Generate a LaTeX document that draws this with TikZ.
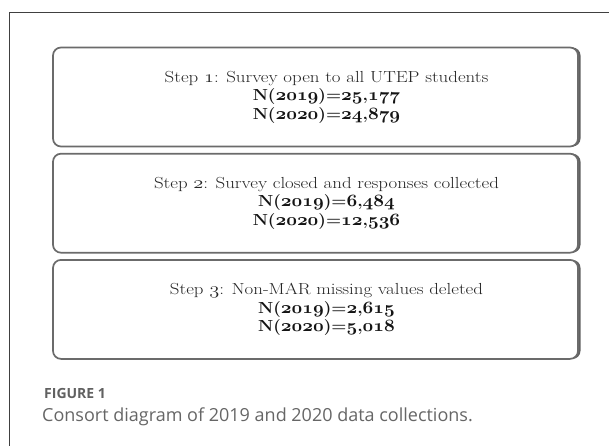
\documentclass[tikz,border=0pt]{standalone}
\usepackage{fontspec}
\usepackage{graphicx}
\usetikzlibrary{positioning,shadows}
\newfontfamily\capfont{Open Sans}
\newcommand{\osf}[1]{{\usefont{OML}{cmm}{m}{it}#1}}
\newcommand{\osfb}[1]{{\usefont{OML}{cmm}{b}{it}#1}}
\newcommand{\wide}[1]{\scalebox{1.18}[1]{#1}}
\newcommand{\ncount}[1]{\scalebox{1.08}[1]{\color{black!92}\bfseries #1}}
\begin{document}
\begin{tikzpicture}[x=1pt, y=-1pt, node distance=5.5pt,
      stepbox/.style={draw=black!58, line width=1.7pt, rounded corners=8pt, fill=white,
        minimum width=525pt, minimum height=99pt, inner sep=0pt,
        general shadow={shadow xshift=2.5pt, shadow yshift=0pt, fill=black!62}},
      steptext/.style={align=center, inner sep=0pt, text=black!85,
        font=\fontsize{16}{18.5}\selectfont}]
    \tikzstyle{capfig} = [inner sep=0pt, text=black!62, font=\capfont\bfseries\fontsize{14}{16}\selectfont]
    \tikzstyle{capline} = [inner sep=0pt, text=black!60, font=\capfont\fontsize{18}{21}\selectfont]
    \useasboundingbox (0,0) rectangle (609,446);
    \fill[white] (0,0) rectangle (609,446);
    \draw[black!75, line width=0.9pt] (9,446) |- (609,12);
    \node[stepbox] (box1) at (315.5,97) {};
    \node[stepbox, below=of box1] (box2) {};
    \node[stepbox, below=of box2] (box3) {};
    \node[steptext] (step1) at ([xshift=11pt]box1.center)
      {\wide{Step \osf{1}: Survey open to all UTEP students}\\
       \ncount{N(\osfb{2019})=\osfb{25},\osfb{177}}\\
       \ncount{N(\osfb{2020})=\osfb{24},\osfb{879}}};
    \node[steptext] (step2) at ([xshift=11pt]box2.center)
      {\wide{Step \osf{2}: Survey closed and responses collected}\\
       \ncount{N(\osfb{2019})=\osfb{6},\osfb{484}}\\
       \ncount{N(\osfb{2020})=\osfb{12},\osfb{536}}};
    \node[steptext] (step3) at ([xshift=11pt]box3.center)
      {\wide{Step \osf{3}: Non-MAR missing values deleted}\\
       \ncount{N(\osfb{2019})=\osfb{2},\osfb{615}}\\
       \ncount{N(\osfb{2020})=\osfb{5},\osfb{018}}};
    \node[capfig, anchor=base west] (figno) at (44,398) {FIGURE 1};
    \node[capline, anchor=base west] (caption) at (42,421) {Consort diagram of 2019 and 2020 data collections.};
\end{tikzpicture}
\end{document}
